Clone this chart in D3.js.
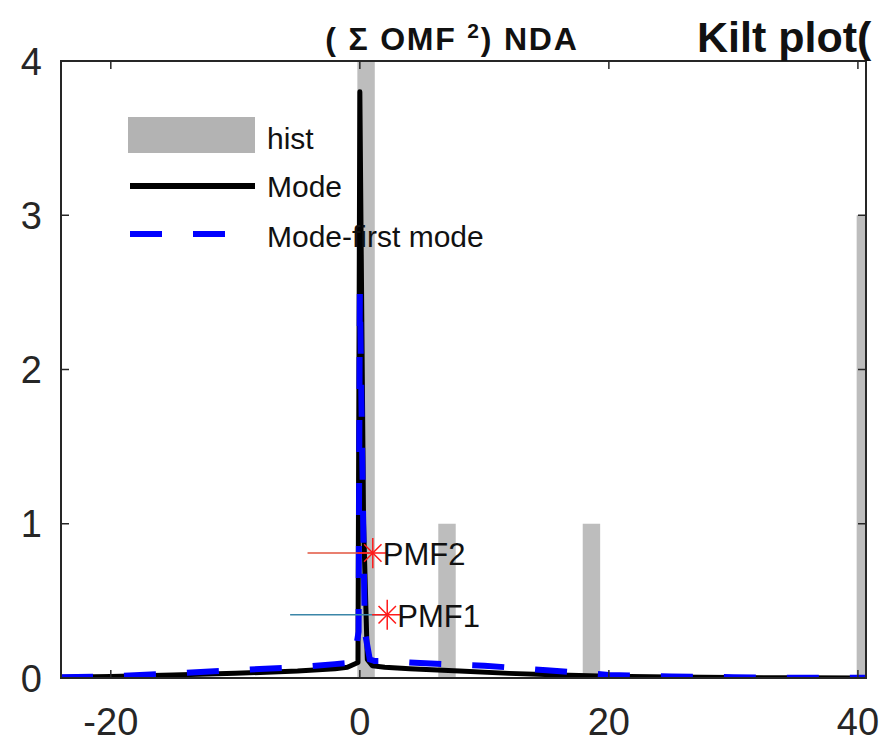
<!DOCTYPE html>
<html>
<head>
<meta charset="utf-8">
<script src="https://cdn.jsdelivr.net/npm/d3@7"></script>
<style>
    body { margin: 0; background: white; }
    svg { display: block; }
</style>
</head>
<body>
<div id="kilt_chart"></div>
<script>
// data of the histogram (bin centers and heights)
const histX = [0.5, 7, 18.6, 40.6]
const histY = [4, 1, 1, 3]
const histBinWidth = 1.4

// "Mode" curve (black solid)
const modeX = [-24, -20, -15, -10, -5, -2, -1, -0.15, 0, 0.3, 0.6, 1.0, 2, 4, 8, 12, 16, 20, 25, 30, 35, 40.6]
const modeY = [0.005, 0.01, 0.02, 0.03, 0.045, 0.06, 0.07, 0.1, 3.8, 1.0, 0.12, 0.08, 0.07, 0.06, 0.045, 0.03, 0.02, 0.012, 0.006, 0.003, 0.001, 0]

// "Mode-first mode" curve (blue dashed)
const firstX = [-24, -20, -15, -10, -5, -2, -0.5, -0.1, 0, 0.4, 0.8, 1.2, 2, 4, 7, 10, 15, 20, 25, 30, 35, 40.6]
const firstY = [0.005, 0.01, 0.03, 0.05, 0.07, 0.09, 0.1, 0.3, 2.5, 0.3, 0.12, 0.11, 0.11, 0.1, 0.09, 0.08, 0.05, 0.02, 0.01, 0.005, 0.002, 0.001]

// PMF markers : star position and the start of the horizontal line
const pmfNames = ["PMF2", "PMF1"]
const pmfX = [1.04, 2.2]
const pmfY = [0.81, 0.41]
const pmfLineStart = [-4.2, -5.6]
const pmfColors = ["#e2553f", "#3b86a8"]

// axis ticks
const xTicks = [-20, 0, 20, 40]
const yTicks = [0, 1, 2, 3, 4]

// setup the dimensions of the plot
const width = 884
const height = 744
const margin = { top: 61, right: 18, bottom: 66, left: 61 }
const innerW = width - margin.left - margin.right
const innerH = height - margin.top - margin.bottom

const svg = d3.select("#kilt_chart").append("svg")
    .attr("width", width)
    .attr("height", height)

const plot = svg.append("g")
    .attr("transform", "translate(" + margin.left + "," + margin.top + ")")

const x = d3.scaleLinear().domain([-24, 40.65]).range([0, innerW])
const y = d3.scaleLinear().domain([0, 4]).range([innerH, 0])

// clip everything to the axes box
svg.append("defs").append("clipPath").attr("id", "clipBox")
    .append("rect").attr("width", innerW).attr("height", innerH)

const content = plot.append("g").attr("clip-path", "url(#clipBox)")

// histogram bars
content.append("g")
    .selectAll("rect")
    .data(histX)
    .enter()
    .append("rect")
        .attr("x", function(d) { return x(d - histBinWidth / 2) })
        .attr("y", function(d, i) { return y(histY[i]) })
        .attr("width", x(histBinWidth) - x(0))
        .attr("height", function(d, i) { return y(0) - y(histY[i]) })
        .style("fill", "#bdbdbd")

const line = d3.line()
    .x(function(d) { return x(d[0]) })
    .y(function(d) { return y(d[1]) })

// black Mode curve
content.append("path")
    .datum(d3.zip(modeX, modeY))
    .attr("d", line)
    .style("fill", "none")
    .style("stroke", "#000")
    .style("stroke-width", 5)
    .style("stroke-linejoin", "round")

// blue dashed first-mode curve
content.append("path")
    .datum(d3.zip(firstX, firstY))
    .attr("d", line)
    .style("fill", "none")
    .style("stroke", "#0000ff")
    .style("stroke-width", 6)
    .style("stroke-dasharray", "32,31")

// PMF lines, stars and labels
const starPlus = d3.symbol().type(d3.symbolPlus).size(300)
const starTimes = d3.symbol().type(d3.symbolTimes).size(200)
pmfNames.forEach(function(name, i) {
    content.append("line")
        .attr("x1", x(pmfLineStart[i]))
        .attr("x2", x(pmfX[i]))
        .attr("y1", y(pmfY[i]))
        .attr("y2", y(pmfY[i]))
        .style("stroke", pmfColors[i])
        .style("stroke-width", 1.5)
    const g = content.append("g")
        .attr("transform", "translate(" + x(pmfX[i]) + "," + y(pmfY[i]) + ")")
    g.append("path").attr("d", starPlus()).style("fill", "none").style("stroke", "#ff1a1a").style("stroke-width", 1.5)
    g.append("path").attr("d", starTimes()).style("fill", "none").style("stroke", "#ff1a1a").style("stroke-width", 1.5)
    content.append("text")
        .attr("x", x(pmfX[i]) + 10)
        .attr("y", y(pmfY[i]) + 12)
        .style("font-family", "'Liberation Sans', Arial, sans-serif")
        .style("font-size", "31px")
        .style("fill", "#111")
        .text(name)
})

// axes box
const axisColor = "#262626"
plot.append("rect")
    .attr("width", innerW)
    .attr("height", innerH)
    .style("fill", "none")
    .style("stroke", axisColor)
    .style("stroke-width", 2)

// ticks pointing inward (bottom + top, left + right)
xTicks.forEach(function(t) {
    plot.append("line").attr("x1", x(t)).attr("x2", x(t)).attr("y1", innerH).attr("y2", innerH - 8)
        .style("stroke", axisColor).style("stroke-width", 1.5)
    plot.append("line").attr("x1", x(t)).attr("x2", x(t)).attr("y1", 0).attr("y2", 8)
        .style("stroke", axisColor).style("stroke-width", 1.5)
    plot.append("text")
        .attr("x", x(t))
        .attr("y", innerH + 57)
        .attr("text-anchor", "middle")
        .style("font-family", "'Liberation Sans', Arial, sans-serif")
        .style("font-size", "38px")
        .style("fill", axisColor)
        .text(t)
})
yTicks.forEach(function(t) {
    plot.append("line").attr("x1", 0).attr("x2", 8).attr("y1", y(t)).attr("y2", y(t))
        .style("stroke", axisColor).style("stroke-width", 1.5)
    plot.append("line").attr("x1", innerW).attr("x2", innerW - 8).attr("y1", y(t)).attr("y2", y(t))
        .style("stroke", axisColor).style("stroke-width", 1.5)
    plot.append("text")
        .attr("x", -19)
        .attr("y", y(t))
        .attr("dy", "0.36em")
        .attr("text-anchor", "end")
        .style("font-family", "'Liberation Sans', Arial, sans-serif")
        .style("font-size", "38px")
        .style("fill", axisColor)
        .text(t)
})

// legend
const legend = svg.append("g")
const legendFont = "'Liberation Sans', Arial, sans-serif"
legend.append("rect")
    .attr("x", 128).attr("y", 117).attr("width", 127).attr("height", 36)
    .style("fill", "#b3b3b3")
legend.append("line")
    .attr("x1", 130).attr("x2", 255).attr("y1", 186).attr("y2", 186)
    .style("stroke", "#000").style("stroke-width", 6)
legend.append("line")
    .attr("x1", 130).attr("x2", 255).attr("y1", 234).attr("y2", 234)
    .style("stroke", "#0000ff").style("stroke-width", 6)
    .style("stroke-dasharray", "32,31")
const legendLabels = ["hist", "Mode", "Mode-first mode"]
const legendBaselines = [149, 197, 247]
legendLabels.forEach(function(label, i) {
    legend.append("text")
        .attr("x", 267)
        .attr("y", legendBaselines[i])
        .style("font-family", legendFont)
        .style("font-size", "30px")
        .style("fill", "#111")
        .text(label)
})

// title of the subplot
const title = svg.append("text")
    .attr("x", 452)
    .attr("y", 50)
    .attr("text-anchor", "middle")
    .style("font-family", "'Liberation Sans', Arial, sans-serif")
    .style("font-weight", "bold")
    .style("font-size", "32px")
    .style("letter-spacing", "1.8px")
    .style("fill", "#111")
title.append("tspan").text("( Σ OMF ")
title.append("tspan").attr("dy", -12).style("font-size", "21px").text("2")
title.append("tspan").attr("dy", 12).text(") NDA")

// figure title (the rest of it lies beyond the right edge)
svg.append("text")
    .attr("x", 697)
    .attr("y", 52)
    .style("font-family", "'Liberation Sans', Arial, sans-serif")
    .style("font-weight", "bold")
    .style("font-size", "43px")
    .style("fill", "#111")
    .text("Kilt plot(")
</script>
</body>
</html>
